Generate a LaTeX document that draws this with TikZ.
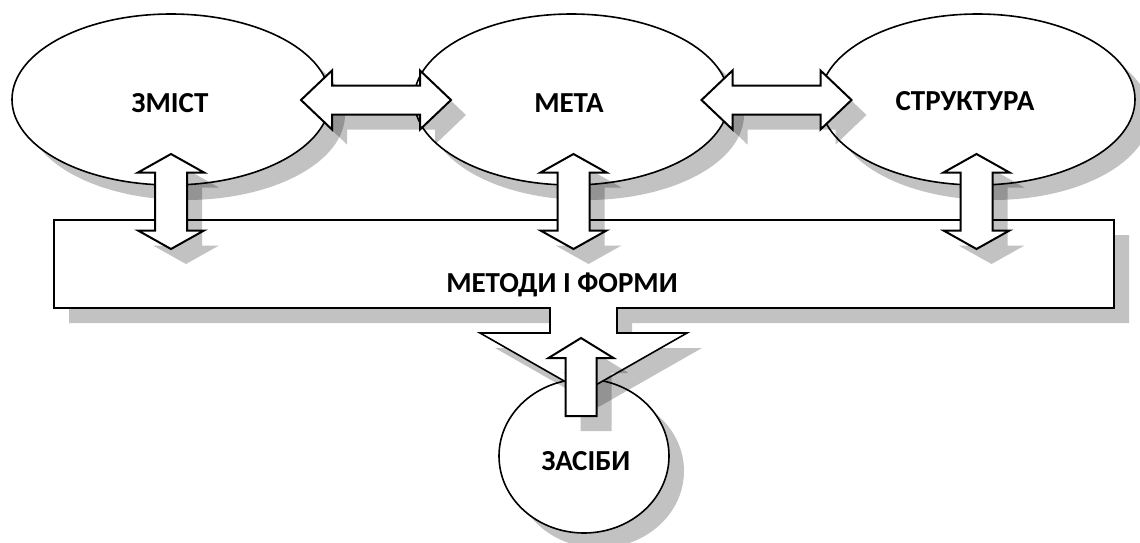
\documentclass[tikz,border=0pt]{standalone}
\usepackage{fontspec}
\setmainfont{Carlito}
\usetikzlibrary{shapes.geometric}

\tikzset{
  % grey drop shadow, cast down and to the right
  castshadow/.style={preaction={draw=none, fill=black, fill opacity=0.24,
      transform canvas={xshift=15pt, yshift=-15pt}}},
  boxline/.style={draw=black, line width=1.6pt, fill=white},
  blockarrow/.style={draw=black, line width=2pt, fill=white, line join=miter, castshadow},
  oval/.style={ellipse, boxline, castshadow, inner sep=0pt},
  caption/.style={font=\fontsize{29}{31}\selectfont\bfseries, inner sep=0pt},
  % horizontal two-headed block arrow, centred on its position
  pics/harrow/.style={code={
    \path[blockarrow] (-75,0) -- (-44,-29.5) -- (-44,-14.5) -- (44,-14.5) -- (44,-29.5)
      -- (75,0) -- (44,29.5) -- (44,14.5) -- (-44,14.5) -- (-44,29.5) -- cycle;}},
  % vertical two-headed block arrow, centred on its position
  pics/varrow/.style={code={
    \path[blockarrow] (0,-47.5) -- (33,-29) -- (16,-29) -- (16,29) -- (33,29)
      -- (0,47.5) -- (-33,29) -- (-16,29) -- (-16,-29) -- (-33,-29) -- cycle;}},
  % upward block arrow, positioned by its tip
  pics/uparrow/.style={code={
    \path[blockarrow] (0,0) -- (32.5,20) -- (15.5,20) -- (15.5,78) -- (-15.5,78)
      -- (-15.5,20) -- (-32.5,20) -- cycle;}},
}

\begin{document}
\begin{tikzpicture}[x=1pt, y=-1pt]
  \useasboundingbox (0,0) rectangle (1140,542);

  % top row of ovals
  \node[oval, minimum width=318pt, minimum height=171pt] (zmist)  at (171,99.5) {};
  \node[oval, minimum width=315pt, minimum height=171pt] (meta)   at (571.5,99.5) {};
  \node[oval, minimum width=315pt, minimum height=171pt] (struct) at (977.5,99.5) {};

  % bottom oval
  \node[oval, minimum width=170pt, minimum height=154pt] (zasoby) at (584,456) {};

  % wide box with a downward pointer
  \path[boxline, castshadow, line join=miter]
    (54,220) -- (1114,220) -- (1114,308) -- (617,308) -- (617,333) -- (687,333)
    -- (583.5,392) -- (480,333) -- (550,333) -- (550,308) -- (54,308) -- cycle;

  % captions
  \node[caption] (zmist-t)   at (170,103) {ЗМІСТ};
  \node[caption] (meta-t)    at (569,103) {МЕТА};
  \node[caption] (struct-t)  at (965,101) {СТРУКТУРА};
  \node[caption] (methods-t) at (562,285) {МЕТОДИ І ФОРМИ};
  \node[caption] (zasoby-t)  at (586,461) {ЗАСІБИ};

  % block arrows between the parts
  \pic at (376,100)     {harrow};
  \pic at (776.5,100)   {harrow};
  \pic at (171,201.5)   {varrow};
  \pic at (573.5,201.5) {varrow};
  \pic at (976.5,201.5) {varrow};
  \pic at (581,338)     {uparrow};
\end{tikzpicture}
\end{document}
